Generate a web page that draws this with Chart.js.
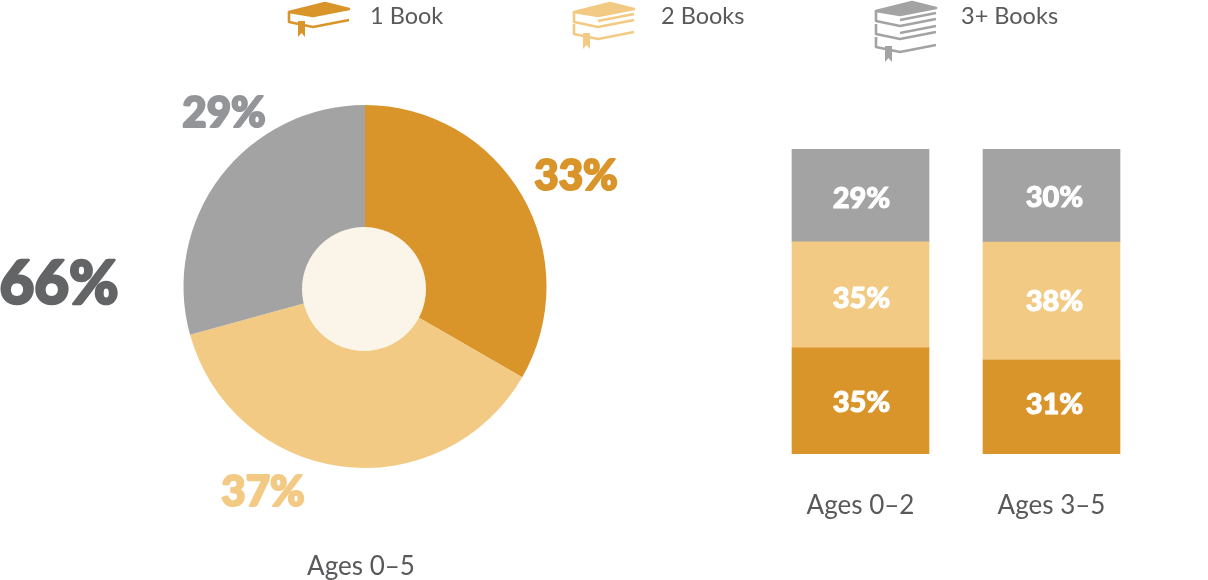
<!DOCTYPE html>
<html>
<head>
<meta charset="utf-8">
<title>Books</title>
<script src="https://cdn.jsdelivr.net/npm/chart.js@4/dist/chart.umd.min.js"></script>
<style>
  html, body { margin: 0; padding: 0; background: #fff; overflow: hidden; }
  #wrap { position: relative; width: 1208px; height: 580px; }
  canvas, svg { position: absolute; left: 0; top: 0; }
  .legendText { position: absolute; font: 23.5px Lato, sans-serif; color: #58595b; line-height: 30px; white-space: nowrap; }
</style>
</head>
<body>
<div id="wrap">
  <canvas id="pieChart" width="1208" height="580"></canvas>
  <canvas id="barChart" width="1208" height="580"></canvas>
  <svg id="icons" width="1208" height="580"></svg>
</div>
<script>
// --- data
const seriesNames = ['1 Book', '2 Books', '3+ Books'];
const seriesColors = ['#d9942a', '#f2ca84', '#a3a3a3'];

const pieValues = [33, 37, 29];
const pieTitle = 'Ages 0–5';
const sideNote = '66%';

const barCategories = ['Ages 0–2', 'Ages 3–5'];
// heights as drawn in the picture (they do not quite follow the printed numbers)
const oneBookHeights = [34.8, 30.8];
const twoBooksHeights = [34.8, 38.7];
const threeBooksHeights = [30.4, 30.5];
// numbers printed on the bars
const oneBookLabels = [35, 31];
const twoBooksLabels = [35, 38];
const threeBooksLabels = [29, 30];

const darkText = '#58595b';
const boldFont = 'Lato';

function heavyText(c, text, x, y, weight) {
    // Lato stops short of the reference's weight, thicken it a bit
    c.lineWidth = weight;
    c.lineJoin = 'round';
    c.strokeStyle = c.fillStyle;
    c.strokeText(text, x, y);
    c.fillText(text, x, y);
}

// --- doughnut
const pieLabelSpots = [[576, 176], [263, 492], [224, 113]];

const pieTextPlugin = {
    id: 'pieText',
    afterDraw: function (chart) {
        const c = chart.ctx;
        const arc = chart.getDatasetMeta(0).data[0];
        c.save();
        // the hole is cream, not white, and sits slightly low in the reference
        c.fillStyle = '#fbf4e8';
        c.beginPath();
        c.arc(arc.x - 1, arc.y + 2.5, 62, 0, Math.PI * 2);
        c.fill();

        c.textAlign = 'center';
        c.textBaseline = 'middle';
        c.font = '900 42px ' + boldFont;
        pieValues.forEach(function (v, i) {
            c.fillStyle = i === 2 ? '#939598' : seriesColors[i];
            heavyText(c, v + '%', pieLabelSpots[i][0], pieLabelSpots[i][1], 2);
        });
        c.fillStyle = '#636466';
        c.font = '900 60px ' + boldFont;
        heavyText(c, sideNote, 59, 285, 2.5);
        c.fillStyle = darkText;
        c.font = '26px Lato';
        c.fillText(pieTitle, 361, 567);
        c.restore();
    }
};

new Chart(document.getElementById('pieChart'), {
    type: 'doughnut',
    data: {
        labels: seriesNames,
        datasets: [{
            data: pieValues,
            backgroundColor: seriesColors,
            borderWidth: 0
        }]
    },
    options: {
        responsive: false,
        animation: false,
        cutout: '30%',
        layout: { padding: { left: 183, right: 661, top: 105, bottom: 112 } },
        plugins: { legend: { display: false }, tooltip: { enabled: false } }
    },
    plugins: [pieTextPlugin]
});

// --- stacked bars
const barLabelSets = [oneBookLabels, twoBooksLabels, threeBooksLabels];
// the printed numbers are not exactly centred in their segments
const barLabelNudgeX = [1, 3];
const barLabelNudgeY = [[1, -3], [3, 0], [2, 1]];

const barTextPlugin = {
    id: 'barText',
    afterDatasetsDraw: function (chart) {
        const c = chart.ctx;
        c.save();
        c.fillStyle = '#fff';
        c.textAlign = 'center';
        c.textBaseline = 'middle';
        c.font = '900 29px ' + boldFont;
        barLabelSets.forEach(function (labels, d) {
            chart.getDatasetMeta(d).data.forEach(function (bar, i) {
                const y = (bar.y + bar.base) / 2 + barLabelNudgeY[d][i] + 1;
                heavyText(c, labels[i] + '%', bar.x + barLabelNudgeX[i], y, 1);
            });
        });
        c.restore();
    }
};

new Chart(document.getElementById('barChart'), {
    type: 'bar',
    data: {
        labels: barCategories,
        datasets: [
            { label: seriesNames[0], data: oneBookHeights, backgroundColor: seriesColors[0] },
            { label: seriesNames[1], data: twoBooksHeights, backgroundColor: seriesColors[1] },
            { label: seriesNames[2], data: threeBooksHeights, backgroundColor: seriesColors[2] }
        ]
    },
    options: {
        responsive: false,
        animation: false,
        datasets: { bar: { barThickness: 137, borderWidth: 0 } },
        layout: { padding: { left: 765, right: 61, top: 149, bottom: 0 } },
        plugins: { legend: { display: false }, tooltip: { enabled: false } },
        scales: {
            x: {
                stacked: true,
                grid: { display: false },
                border: { display: false },
                afterFit: function (scale) { scale.height = 126; },
                ticks: { color: darkText, font: { family: 'Lato', size: 26 }, padding: 28, maxRotation: 0 }
            },
            y: { stacked: true, display: false, min: 0, max: 100 }
        }
    },
    plugins: [barTextPlugin]
});

// --- legend: book icons and names
const legendIconX = [288, 573, 875];
const legendTop = [1, 1, 0];
const legendTextX = [370, 661, 961];
const legendLayerGap = [12, 12, 13];

function bookIcon(x, top, color, count, gap) {
    let s = '<g transform="translate(' + x + ',' + top + ')" fill="none" stroke="' + color + '" stroke-width="2.6" stroke-linejoin="round">';
    s += '<path d="M1 11 L37 2 L61 8 L25 15 Z" fill="' + color + '"/>';
    for (let i = 0; i < count; i++) {
        const y = i * gap;
        s += '<path d="M1 ' + (11 + y) + ' V' + (21 + y) + ' L25 ' + (26 + y) + ' L61 ' + (19 + y) + '"/>';
        if (i < count - 1) {
            s += '<path d="M25 ' + (20 + y) + ' L61 ' + (13 + y) + '"/>';
        }
    }
    const b = (count - 1) * gap;
    s += '<path d="M10 ' + (20 + b) + ' H17 V' + (36 + b) + ' L13.5 ' + (32 + b) + ' L10 ' + (36 + b) + ' Z" fill="' + color + '" stroke="none"/>';
    s += '</g>';
    return s;
}

let iconMarkup = '';
seriesNames.forEach(function (name, i) {
    iconMarkup += bookIcon(legendIconX[i], legendTop[i], seriesColors[i], i + 1, legendLayerGap[i]);
    const t = document.createElement('div');
    t.className = 'legendText';
    t.textContent = name;
    t.style.left = legendTextX[i] + 'px';
    t.style.top = '0px';
    document.getElementById('wrap').appendChild(t);
});
document.getElementById('icons').innerHTML = iconMarkup;
</script>
</body>
</html>
